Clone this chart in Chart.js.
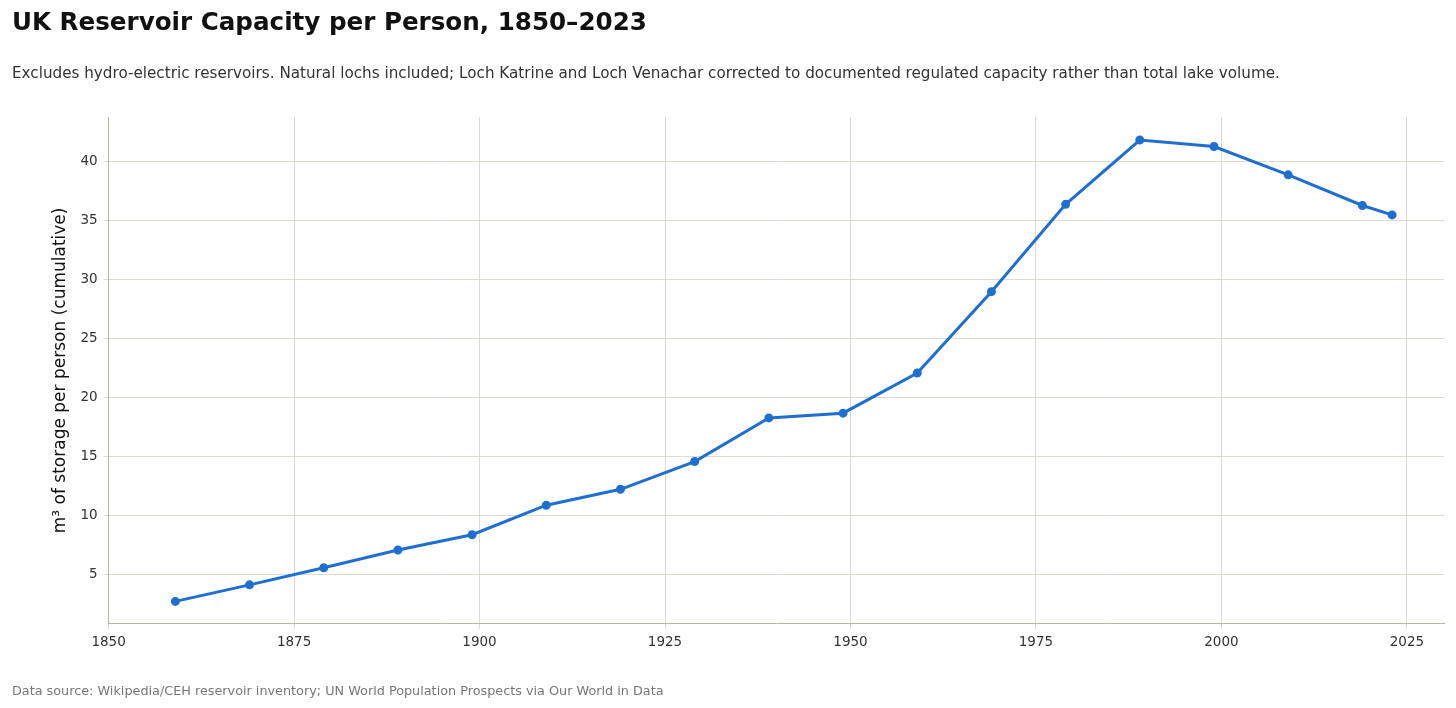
<!DOCTYPE html>
<html><head><meta charset="utf-8">
<script src="https://cdn.jsdelivr.net/npm/chart.js@4"></script>
<style>
body{margin:0;background:#fff;font-family:"DejaVu Sans",sans-serif;width:1456px;height:708px;position:relative;overflow:hidden}
#t{position:absolute;left:12px;top:7px;font-size:24.6px;font-weight:bold;color:#111}
#s{position:absolute;left:12px;top:64px;font-size:15.2px;color:#333}
#f{position:absolute;left:12px;top:683px;font-size:12.8px;color:#777}
#c{position:absolute;left:0;top:0;width:1456px;height:708px}
</style></head><body>
<div id="c"><canvas id="cv"></canvas></div>
<div id="t">UK Reservoir Capacity per Person, 1850–2023</div>
<div id="s">Excludes hydro-electric reservoirs. Natural lochs included; Loch Katrine and Loch Venachar corrected to documented regulated capacity rather than total lake volume.</div>
<div id="f">Data source: Wikipedia/CEH reservoir inventory; UN World Population Prospects via Our World in Data</div>
<script>
const years=[1859,1869,1879,1889,1899,1909,1919,1929,1939,1949,1959,1969,1979,1989,1999,2009,2019,2023];
const perPerson=[2.75,4.15,5.6,7.1,8.4,10.9,12.25,14.6,18.3,18.7,22.1,29.0,36.4,41.85,41.3,38.9,36.3,35.5];
const xTicks=[1850,1875,1900,1925,1950,1975,2000,2025];
const yTicks=[5,10,15,20,25,30,35,40];
const grid='#dddbd2';
new Chart(document.getElementById('cv'),{
type:'line',
data:{datasets:[{data:years.map((y,i)=>({x:y,y:perPerson[i]})),borderColor:'#1f6fd1',backgroundColor:'#1f6fd1',borderWidth:3,pointRadius:3,tension:0}]},
options:{responsive:true,maintainAspectRatio:false,animation:false,
layout:{padding:{top:117,bottom:51,left:46,right:12}},
plugins:{legend:{display:false},tooltip:{enabled:false}},
scales:{
x:{type:'linear',min:1850,max:2030,ticks:{color:'#333',font:{size:13.5,family:'DejaVu Sans'},padding:6,callback:v=>String(v)},
 afterBuildTicks:a=>{a.ticks=xTicks.map(v=>({value:v}))},
 grid:{color:grid,tickLength:5},border:{color:'#b8b59f'}},
y:{min:0.85,max:43.8,ticks:{color:'#333',font:{size:13.5,family:'DejaVu Sans'},padding:6},
 afterBuildTicks:a=>{a.ticks=yTicks.map(v=>({value:v}))},
 grid:{color:grid,tickLength:5},border:{color:'#b8b59f'},
 title:{display:true,text:'m³ of storage per person (cumulative)',color:'#111',font:{size:17,family:'DejaVu Sans'}}}
}}});
</script></body></html>
